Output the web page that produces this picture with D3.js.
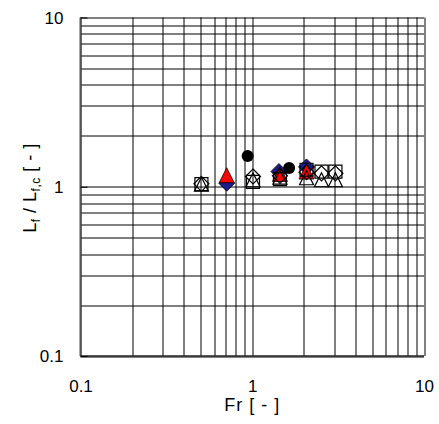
<!DOCTYPE html>
<html>
<head>
<meta charset="utf-8">
<script src="https://cdn.jsdelivr.net/npm/d3@7"></script>
<style>
  body { margin: 0; background: #fff; }
  text { font-family: "Liberation Sans", Arial, sans-serif; fill: #000; }
</style>
</head>
<body>
<div id="chart"></div>
<script>
// Data
const frSquare   = [0.506, 1.01, 1.45, 2.07, 2.53, 3.05];
const lfSquare   = [1.035, 1.07, 1.11, 1.26, 1.23, 1.23];
const frTriangle = [0.506, 1.01, 1.45, 2.07, 2.53, 3.05];
const lfTriangle = [1.035, 1.10, 1.14, 1.13, 1.10, 1.10];
const frDiamond  = [0.506, 1.01, 1.45, 2.07, 2.53, 3.05];
const lfDiamond  = [1.04, 1.15, 1.16, 1.22, 1.20, 1.20];
const frBlue     = [0.71, 1.43, 2.07];
const lfBlue     = [1.05, 1.23, 1.31];
const frRed      = [0.71, 1.45, 2.07];
const lfRed      = [1.17, 1.19, 1.23];
const frCircle   = [0.94, 1.64];
const lfCircle   = [1.52, 1.29];

const tickValues = [0.1, 1, 10];
const tickLabels = ["0.1", "1", "10"];

// Chart size
const W = 439, H = 424;
const margin = { top: 17.5, right: 15, bottom: 68, left: 80.5 };
const width = W - margin.left - margin.right;
const height = H - margin.top - margin.bottom;

const svg = d3.select("#chart")
  .append("svg")
  .attr("width", W)
  .attr("height", H);

const g = svg.append("g")
  .attr("transform", `translate(${margin.left},${margin.top})`);

const x = d3.scaleLog().domain([0.1, 10]).range([0, width]);
const y = d3.scaleLog().domain([0.1, 10]).range([height, 0]);

// grid values 0.1..10 at every 1-9 multiple
const gridVals = [];
[0.1, 1].forEach(d => { for (let k = 1; k <= 9; k++) gridVals.push(d * k); });
gridVals.push(10);

// vertical grid lines
g.selectAll(".vgrid")
  .data(gridVals)
  .enter().append("line")
  .attr("x1", d => Math.round(x(d)) + 0.5)
  .attr("x2", d => Math.round(x(d)) + 0.5)
  .attr("y1", 0)
  .attr("y2", height)
  .attr("stroke", "#000")
  .attr("stroke-width", 1);

// horizontal grid lines
g.selectAll(".hgrid")
  .data(gridVals)
  .enter().append("line")
  .attr("x1", 0)
  .attr("x2", width)
  .attr("y1", d => Math.round(y(d)) + 0.5)
  .attr("y2", d => Math.round(y(d)) + 0.5)
  .attr("stroke", "#000")
  .attr("stroke-width", 1);

// left and bottom axis lines (a bit heavier)
g.append("line")
  .attr("x1", 0).attr("x2", 0)
  .attr("y1", 0).attr("y2", height)
  .attr("stroke", "#555").attr("stroke-width", 2);
g.append("line")
  .attr("x1", 0).attr("x2", width)
  .attr("y1", height).attr("y2", height)
  .attr("stroke", "#222").attr("stroke-width", 1.5);

// x axis labels
const xAxis = d3.axisBottom(x)
  .tickValues(tickValues)
  .tickFormat((d, i) => tickLabels[i])
  .tickSize(0)
  .tickPadding(24);
g.append("g")
  .attr("transform", `translate(0,${height})`)
  .call(xAxis)
  .call(a => a.select(".domain").remove())
  .selectAll("text")
  .style("font-size", "17px")
  .style("font-family", "Liberation Sans, Arial, sans-serif");

// y axis labels with short inward ticks
const yAxis = d3.axisLeft(y)
  .tickValues(tickValues)
  .tickFormat((d, i) => tickLabels[i])
  .tickSize(-7)
  .tickPadding(17);
g.append("g")
  .call(yAxis)
  .call(a => a.select(".domain").remove())
  .call(a => a.selectAll(".tick line").attr("stroke", "#000"))
  .selectAll("text")
  .attr("dy", "0.35em")
  .style("font-size", "17px")
  .style("font-family", "Liberation Sans, Arial, sans-serif");

// axis titles
svg.append("text")
  .attr("x", margin.left + width / 2)
  .attr("y", 411)
  .attr("text-anchor", "middle")
  .style("font-size", "18px")
  .style("letter-spacing", "1px")
  .text("Fr [ - ]");

const yt = svg.append("text")
  .attr("transform", `translate(36,188) rotate(-90)`)
  .attr("text-anchor", "middle")
  .style("font-size", "18px")
  .style("letter-spacing", "0.5px");
yt.append("tspan").text("L");
yt.append("tspan").attr("dy", 4).style("font-size", "12px").text("f");
yt.append("tspan").attr("dy", -4).text(" / L");
yt.append("tspan").attr("dy", 4).style("font-size", "12px").text("f,c");
yt.append("tspan").attr("dy", -4).text(" [ - ]");

// marker paths
const sq = s => `M${-s/2},${-s/2}H${s/2}V${s/2}H${-s/2}Z`;
const tri = (w, h) => `M0,${-h/2}L${w/2},${h/2}L${-w/2},${h/2}Z`;
const dia = (w, h) => `M0,${-h/2}L${w/2},0L0,${h/2}L${-w/2},0Z`;

function drawSeries(fr, lf, path, fill, stroke, sw) {
  g.append("g")
    .selectAll("path")
    .data(fr.map((f, i) => ({ f: f, v: lf[i] })))
    .enter().append("path")
    .attr("transform", d => `translate(${x(d.f)},${y(d.v)})`)
    .attr("d", path)
    .attr("fill", fill)
    .attr("stroke", stroke)
    .attr("stroke-width", sw);
}

drawSeries(frBlue, lfBlue, dia(16, 16), "#1c1c8c", "#000", 0.8);
drawSeries(frRed, lfRed, tri(15, 15), "#ff0000", "#000", 0.8);
drawSeries(frSquare, lfSquare, sq(13), "none", "#000", 1.2);
drawSeries(frDiamond, lfDiamond, dia(15, 15), "none", "#000", 1.2);
drawSeries(frTriangle, lfTriangle, tri(14, 14), "none", "#000", 1.2);

g.append("g")
  .selectAll("circle")
  .data(frCircle.map((f, i) => ({ f: f, v: lfCircle[i] })))
  .enter().append("circle")
  .attr("cx", d => x(d.f))
  .attr("cy", d => y(d.v))
  .attr("r", 6)
  .attr("fill", "#000");
</script>
</body>
</html>
